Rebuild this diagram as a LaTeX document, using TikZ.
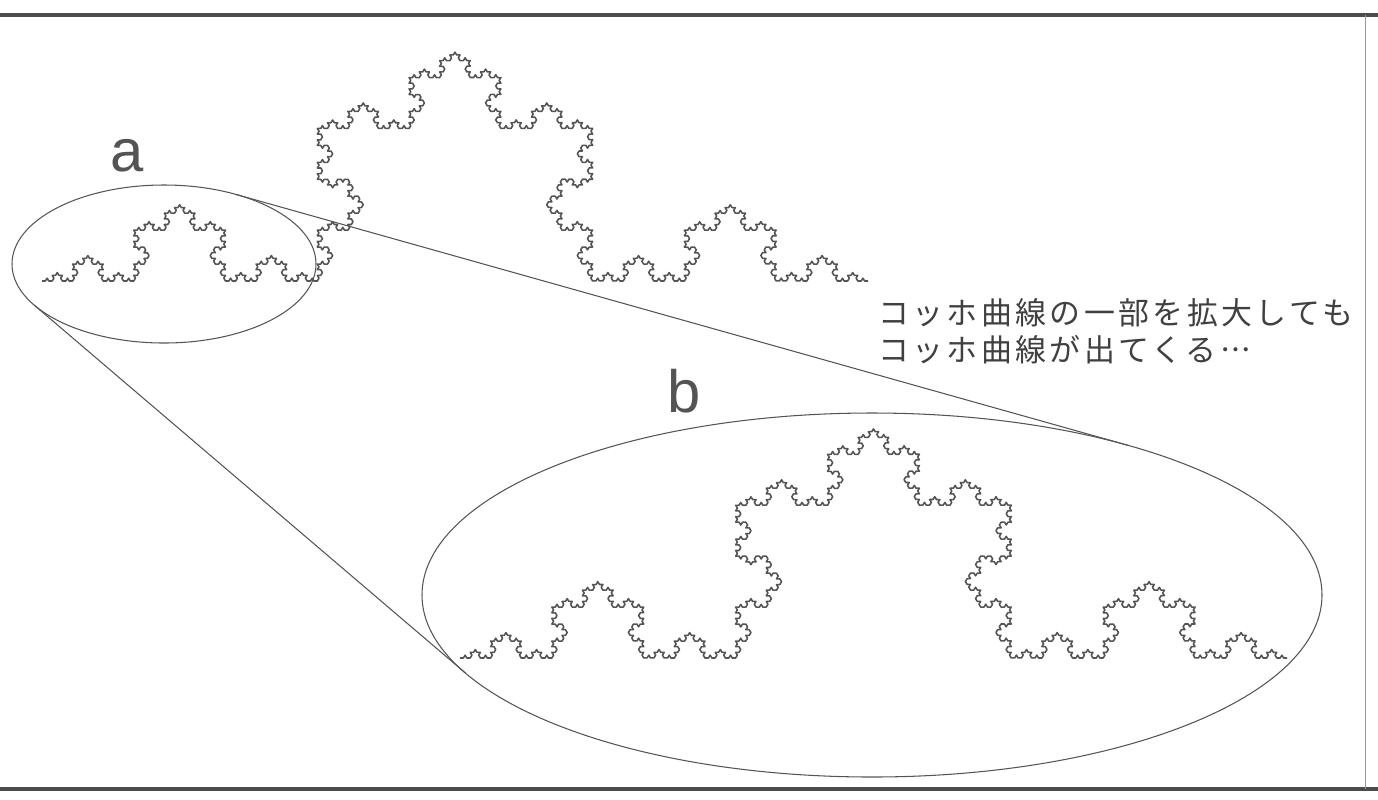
\documentclass[tikz,border=0pt]{standalone}
\usepackage{fontspec}
\usepackage{tikz}
\usetikzlibrary{calc,decorations.fractals}

\newfontfamily\labelfont{Liberation Sans}
\newfontfamily\jpfont[Script=CJK,Language=Japanese,CharacterWidth=Full,LetterSpace=11]{Noto Sans CJK JP}
\definecolor{inkgray}{gray}{0.33}

\begin{document}
\begin{tikzpicture}[x=0.02cm,y=-0.02cm,
	curve/.style={inkgray,line width=0.9pt,line join=round,decoration=Koch snowflake},
	loupe/.style={inkgray,line width=0.6pt},
	rule/.style={black!70,line width=2.3pt}]
	\newcommand{\radAx}{152}
	\newcommand{\radAy}{79}
	\newcommand{\radBx}{450}
	\newcommand{\radBy}{182}

	\useasboundingbox (0,0) rectangle (1378,799);

	\coordinate (center_a) at (164,264);
	\coordinate (center_b) at (872,595);

	% frame
	\draw[rule] (0,15) -- (1378,15);
	\draw[rule] (0,789) -- (1378,789);
	\draw[black!40,line width=0.5pt] (1365,15) -- (1365,789);

	% koch curves (page squashed a little in y)
	\begin{scope}[transform canvas={yscale=0.96}]
		\draw[curve] decorate{decorate{decorate{decorate{decorate{(42,292.7) -- (868,292.7)}}}}};
		\draw[curve] decorate{decorate{decorate{decorate{decorate{(460,685.4) -- (1287,685.4)}}}}};
	\end{scope}

	% loupes
	\draw[loupe] (center_a) ellipse [x radius=\radAx, y radius=\radAy];
	\draw[loupe] (center_b) ellipse [x radius=\radBx, y radius=\radBy];

	% tangent lines between the loupes (polar angles run clockwise here)
	\coordinate (touch_a_up) at ($(center_a)+(-61.6:{\radAx} and {\radAy})$);
	\coordinate (touch_b_up) at ($(center_b)+(-55.2:{\radBx} and {\radBy})$);
	\coordinate (touch_a_low) at ($(center_a)+(148.6:{\radAx} and {\radAy})$);
	\coordinate (touch_b_low) at ($(center_b)+(154.6:{\radBx} and {\radBy})$);
	\draw[loupe] (touch_a_up) -- (touch_b_up);
	\draw[loupe] (touch_a_low) -- (touch_b_low);

	% labels
	\node[text=inkgray,font=\labelfont\fontsize{34}{40}\selectfont] (label_a) at (127,156) {a};
	\node[text=inkgray,font=\labelfont\fontsize{34}{40}\selectfont] (label_b) at (684,391) {b};
	\node[text=black!75,anchor=west,align=left,inner sep=0pt,
		font=\jpfont\fontsize{17.6}{21}\selectfont] (caption) at (878,331)
		{コッホ曲線の一部を拡大しても\\コッホ曲線が出てくる…};
\end{tikzpicture}
\end{document}
